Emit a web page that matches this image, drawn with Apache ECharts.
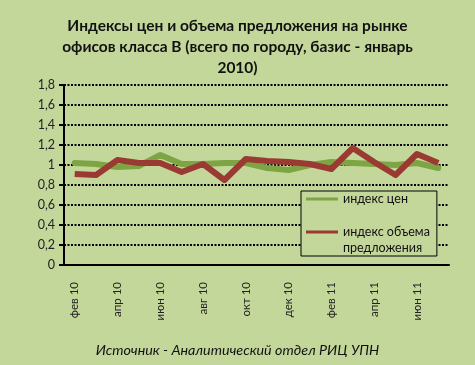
<!DOCTYPE html>
<html><head><meta charset="utf-8">
<script src="https://cdn.jsdelivr.net/npm/echarts@6/dist/echarts.min.js"></script>
<style>html,body{margin:0;padding:0;background:#c4d79b;}#c{width:475px;height:365px;}</style>
</head><body><div id="c"></div>
<script>
const titleText = 'Индексы цен и объема предложения на рынке\nофисов класса В (всего по городу, базис - январь\n2010)';
const sourceText = 'Источник - Аналитический отдел РИЦ УПН';
const categories = ['фев 10','мар 10','апр 10','май 10','июн 10','июл 10','авг 10','сен 10','окт 10','ноя 10','дек 10','янв 11','фев 11','мар 11','апр 11','май 11','июн 11','июл 11'];
const seriesNames = ['индекс цен','индекс объема предложения'];
const priceIndex = [1.02,1.01,0.98,0.99,1.10,1.01,1.01,1.02,1.02,0.97,0.95,1.00,1.03,1.02,1.01,1.00,1.02,0.97];
const supplyIndex = [0.91,0.90,1.05,1.02,1.02,0.93,1.01,0.85,1.06,1.04,1.03,1.01,0.96,1.17,1.03,0.90,1.11,1.02];
const yTicks = {min:0, max:1.8, interval:0.2};

const chart = echarts.init(document.getElementById('c'));
const F = 'Lato, "Open Sans", sans-serif';
chart.setOption({
  backgroundColor:'#c4d79b',
  animation:false,
  title:{text:titleText, left:'center', top:10, textStyle:{fontFamily:F, fontWeight:'bold', fontSize:15.5, lineHeight:21, color:'#111'}},
  graphic:[{type:'text', left:'center', top:343, style:{text:sourceText, font:'italic 14.3px '+F, fill:'#111'}}],
  legend:{
    orient:'vertical', left:301, top:191, padding:[0,7,0,5], itemGap:1,
    borderColor:'#000', borderWidth:1, backgroundColor:'#c4d79b',
    icon:'rect', itemWidth:32, itemHeight:3,
    textStyle:{fontFamily:F, fontSize:12.5, lineHeight:16, color:'#111'},
    formatter:function(n){return n===seriesNames[1]?' \nиндекс объема\nпредложения':n;},
    data:[{name:seriesNames[0]},{name:seriesNames[1]}]
  },
  grid:{left:64, right:26, top:85, bottom:100},
  xAxis:{type:'category', data:categories, boundaryGap:true,
    axisLine:{lineStyle:{color:'#000', width:2}},
    axisTick:{interval:1, length:4, lineStyle:{color:'#000', width:2}},
    axisLabel:{interval:1, rotate:90, margin:17, fontFamily:F, fontSize:11.5, color:'#222'}},
  yAxis:{type:'value', min:yTicks.min, max:yTicks.max, interval:yTicks.interval,
    axisLine:{show:true, lineStyle:{color:'#000', width:2}},
    axisTick:{show:true, length:5, lineStyle:{color:'#000', width:2}},
    axisLabel:{fontFamily:F, fontSize:12.5, color:'#222', margin:9, formatter:function(v){return String(+v.toFixed(1)).replace('.',',');}},
    splitLine:{lineStyle:{color:'#000', width:2, type:[2,1.5]}}},
  series:[
    {name:seriesNames[0], type:'line', data:priceIndex, symbol:'none', color:'#7ea544', lineStyle:{width:6, color:'#7ea544', cap:'round', join:'round'}},
    {name:seriesNames[1], type:'line', data:supplyIndex, symbol:'none', color:'#9a3a33', lineStyle:{width:6, color:'#9a3a33', join:'round'}}
  ]
});
</script></body></html>
